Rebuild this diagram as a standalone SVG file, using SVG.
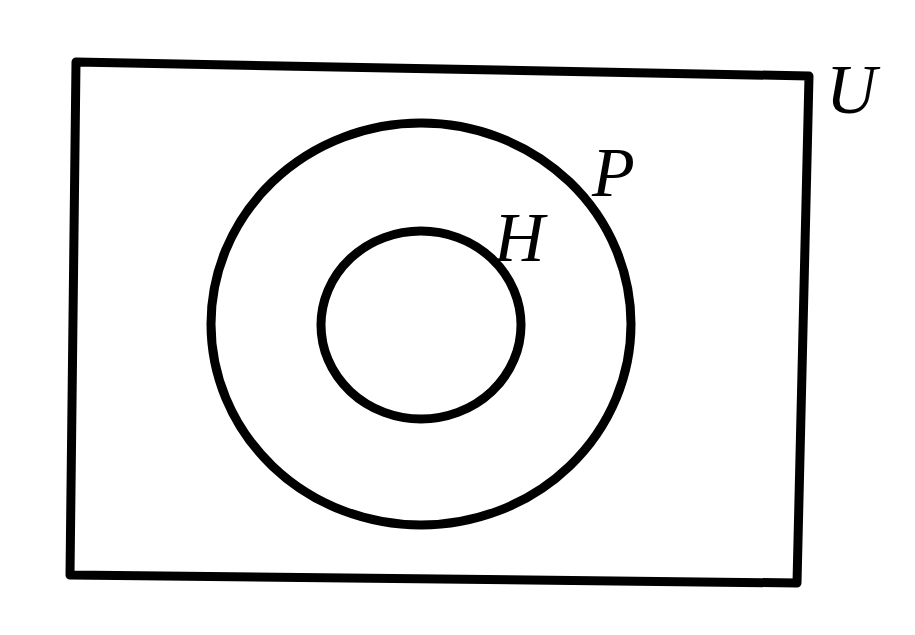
<svg xmlns="http://www.w3.org/2000/svg" width="915" height="635" viewBox="0 0 915 635">
<style>
.s{fill:none;stroke:#000;stroke-width:9;stroke-linejoin:round}
.t{font-family:"Liberation Serif",serif;font-style:italic;font-size:70px;fill:#000}
</style>
<rect width="915" height="635" fill="#fff"/>
<g id="U">
<polygon class="s" points="76,62 809,76 797,583 70,575"/>
<text class="t" x="826" y="113" font-size="66">U</text>
</g>
<g id="P">
<ellipse class="s" cx="421" cy="324" rx="210" ry="201"/>
<text class="t" x="592" y="196">P</text>
</g>
<g id="H">
<ellipse class="s" cx="421" cy="325" rx="100" ry="94"/>
<text class="t" x="494" y="261" font-size="78">H</text>
</g>
<g id="connectors"></g>
</svg>
